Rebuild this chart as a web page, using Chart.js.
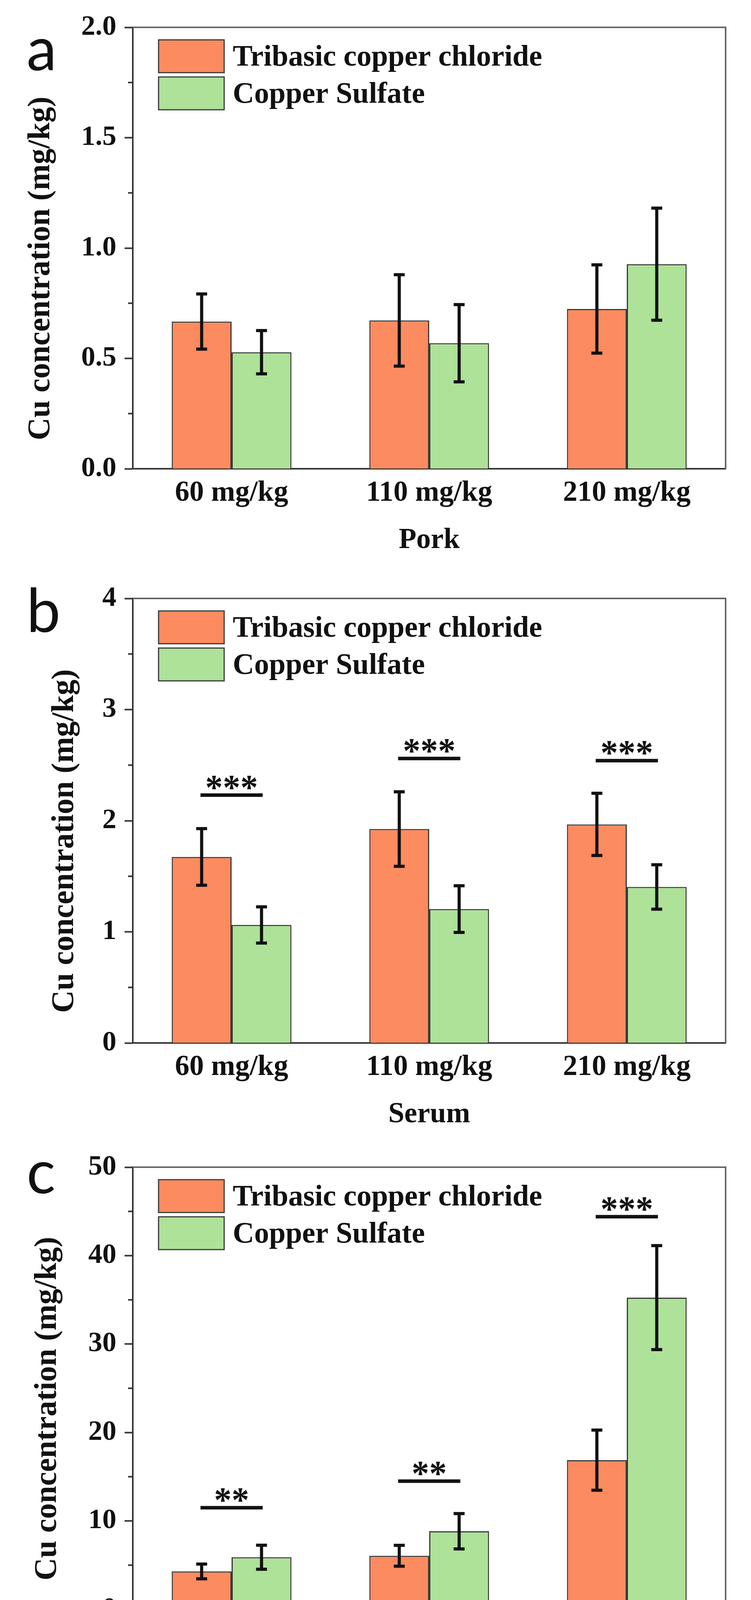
<!DOCTYPE html>
<html>
<head>
<meta charset="utf-8">
<script src="https://cdn.jsdelivr.net/npm/chart.js@4.4.1/dist/chart.umd.min.js"></script>
<style>
  html, body { margin: 0; padding: 0; background: #fff; overflow: hidden; }
  canvas { position: absolute; left: 0; }
</style>
</head>
<body>
<canvas id="pork" width="1923" height="1440" style="top:0px"></canvas>
<canvas id="serum" width="1923" height="1440" style="top:1462px"></canvas>
<canvas id="liver" width="1923" height="1440" style="top:2918px"></canvas>
<script>
const categories = ['60 mg/kg', '110 mg/kg', '210 mg/kg'];
const seriesNames = ['Tribasic copper chloride', 'Copper Sulfate'];
const seriesColors = ['#FC8B5F', '#AEE298'];

// a - pork
const porkTcc = [0.667, 0.672, 0.724];
const porkTccErr = [0.125, 0.207, 0.2];
const porkCs = [0.528, 0.569, 0.927];
const porkCsErr = [0.098, 0.175, 0.254];
const porkTicks = ['0.0', '0.5', '1.0', '1.5', '2.0'];

// b - serum
const serumTcc = [1.674, 1.925, 1.967];
const serumTccErr = [0.255, 0.335, 0.28];
const serumCs = [1.062, 1.205, 1.404];
const serumCsErr = [0.163, 0.21, 0.2];
const serumTicks = ['0', '1', '2', '3', '4'];
const serumStars = ['***', '***', '***'];
const serumStarY = [2.23, 2.56, 2.54];

// c - liver
const liverTcc = [4.29, 6.06, 16.87];
const liverTccErr = [0.83, 1.18, 3.4];
const liverCs = [5.9, 8.83, 35.25];
const liverCsErr = [1.36, 2.0, 5.88];
const liverTicks = ['0', '10', '20', '30', '40', '50'];
const liverStars = ['**', '**', '***'];
const liverStarY = [11.5, 14.5, 44.4];

Chart.defaults.font.family = '"Liberation Serif", "Times New Roman", serif';
Chart.defaults.color = '#111';

const H = 1440;
const AXIS = '#333';

const panels = [
  { id: 'pork', letter: 'a', letterY: 180, xTitle: 'Pork', tcc: porkTcc, tccErr: porkTccErr, cs: porkCs, csErr: porkCsErr,
    max: 2, step: 0.5, ticks: porkTicks, stars: [], starY: [], bottom: 1200, titleX: 105 },
  { id: 'serum', letter: 'b', letterY: 156, xTitle: 'Serum', tcc: serumTcc, tccErr: serumTccErr, cs: serumCs, csErr: serumCsErr,
    max: 4, step: 1, ticks: serumTicks, stars: serumStars, starY: serumStarY, bottom: 1208, titleX: 166 },
  { id: 'liver', letter: 'c', letterY: 137, xTitle: 'Liver', tcc: liverTcc, tccErr: liverTccErr, cs: liverCs, csErr: liverCsErr,
    max: 50, step: 10, ticks: liverTicks, stars: liverStars, starY: liverStarY, bottom: 1202, titleX: 122 }
];

// error bars, significance marks, frame, minor ticks, legend, labels
const decorations = {
  id: 'decorations',
  afterDatasetsDraw(chart, args, o) {
    const { ctx, scales: { y } } = chart;
    ctx.save();
    ctx.strokeStyle = '#111';
    ctx.lineWidth = 8;
    chart.data.datasets.forEach((ds, di) => {
      chart.getDatasetMeta(di).data.forEach((bar, i) => {
        const hi = y.getPixelForValue(ds.data[i] + ds.errors[i]);
        const lo = y.getPixelForValue(ds.data[i] - ds.errors[i]);
        ctx.beginPath();
        ctx.moveTo(bar.x, hi); ctx.lineTo(bar.x, lo);
        ctx.moveTo(bar.x - 14, hi); ctx.lineTo(bar.x + 14, hi);
        ctx.moveTo(bar.x - 14, lo); ctx.lineTo(bar.x + 14, lo);
        ctx.stroke();
      });
    });
    ctx.restore();
  },
  afterDraw(chart, args, o) {
    const { ctx, chartArea: area, scales: { y } } = chart;
    ctx.save();

    // top and right frame
    ctx.strokeStyle = '#666';
    ctx.lineWidth = 4;
    ctx.beginPath();
    ctx.moveTo(area.left, area.top);
    ctx.lineTo(area.right, area.top);
    ctx.lineTo(area.right, area.bottom);
    ctx.stroke();

    // minor ticks
    ctx.strokeStyle = AXIS;
    for (let v = o.step / 2; v < o.max; v += o.step) {
      const py = y.getPixelForValue(v);
      ctx.beginPath();
      ctx.moveTo(area.left - 12, py);
      ctx.lineTo(area.left, py);
      ctx.stroke();
    }

    // significance
    const m0 = chart.getDatasetMeta(0).data, m1 = chart.getDatasetMeta(1).data;
    o.stars.forEach((s, i) => {
      const x0 = m0[i].x, x1 = m1[i].x;
      const py = y.getPixelForValue(o.starY[i]);
      ctx.strokeStyle = '#111';
      ctx.lineWidth = 9;
      ctx.beginPath();
      ctx.moveTo(x0 - 3, py); ctx.lineTo(x1 + 3, py);
      ctx.stroke();
      ctx.font = 'bold 90px "Liberation Serif"';
      ctx.fillStyle = '#111';
      ctx.textAlign = 'center';
      ctx.textBaseline = 'alphabetic';
      const mt = ctx.measureText(s);
      ctx.fillText(s, (x0 + x1) / 2, py - 15 - mt.actualBoundingBoxDescent);
    });

    // legend
    const bx = area.left + 66, bw = 168, bh = 84;
    seriesNames.forEach((name, i) => {
      const by = area.top + 32 + i * (bh + 11);
      ctx.fillStyle = seriesColors[i];
      ctx.fillRect(bx, by, bw, bh);
      ctx.strokeStyle = '#3a3a3a';
      ctx.lineWidth = 3;
      ctx.strokeRect(bx, by, bw, bh);
      ctx.fillStyle = '#111';
      ctx.font = 'bold 76px "Liberation Serif"';
      ctx.textAlign = 'left';
      ctx.textBaseline = 'middle';
      ctx.fillText(name, bx + bw + 22, by + bh / 2 + 4);
    });

    // y title
    ctx.save();
    ctx.translate(o.titleX, (area.top + area.bottom) / 2 + 52);
    ctx.rotate(-Math.PI / 2);
    ctx.font = 'bold 80px "Liberation Serif"';
    ctx.textAlign = 'center';
    ctx.textBaseline = 'middle';
    ctx.fillStyle = '#111';
    ctx.fillText('Cu concentration (mg/kg)', 0, 0);
    ctx.restore();

    // panel letter
    ctx.font = '155px Lato, "Open Sans", sans-serif';
    ctx.fillStyle = '#111';
    ctx.textAlign = 'left';
    ctx.textBaseline = 'alphabetic';
    ctx.fillText(o.letter, 68, o.letterY);

    ctx.restore();
  }
};

panels.forEach(p => {
  new Chart(document.getElementById(p.id), {
    type: 'bar',
    data: {
      labels: categories,
      datasets: [
        { label: seriesNames[0], data: p.tcc, errors: p.tccErr, backgroundColor: seriesColors[0],
          borderColor: '#3a3a3a', borderWidth: 3, categoryPercentage: 0.606, barPercentage: 1 },
        { label: seriesNames[1], data: p.cs, errors: p.csErr, backgroundColor: seriesColors[1],
          borderColor: '#3a3a3a', borderWidth: 3, categoryPercentage: 0.606, barPercentage: 1 }
      ]
    },
    options: {
      responsive: false,
      animation: false,
      devicePixelRatio: 1,
      layout: { padding: { top: 70, right: 65, left: 0, bottom: 0 } },
      plugins: {
        legend: { display: false },
        tooltip: { enabled: false },
        decorations: p
      },
      scales: {
        x: {
          grid: { display: false, drawTicks: false },
          border: { display: true, color: AXIS, width: 4 },
          ticks: { font: { size: 74, weight: 'bold' }, padding: 18 },
          title: {
            display: true, text: p.xTitle,
            font: { size: 74, weight: 'bold' },
            padding: { top: 0, bottom: H - (p.bottom + 184) - 44 }
          },
          afterFit: s => { s.height = H - p.bottom; }
        },
        y: {
          min: 0,
          max: p.max,
          ticks: {
            stepSize: p.step,
            callback: (v, i) => p.ticks[i],
            font: { size: 72, weight: 'bold' },
            padding: 21
          },
          grid: { drawOnChartArea: false, drawTicks: true, tickLength: 21, tickWidth: 4, tickColor: AXIS },
          border: { display: true, color: AXIS, width: 4 },
          afterFit: s => { s.width = 340; }
        }
      }
    },
    plugins: [decorations]
  });
});
</script>
</body>
</html>
